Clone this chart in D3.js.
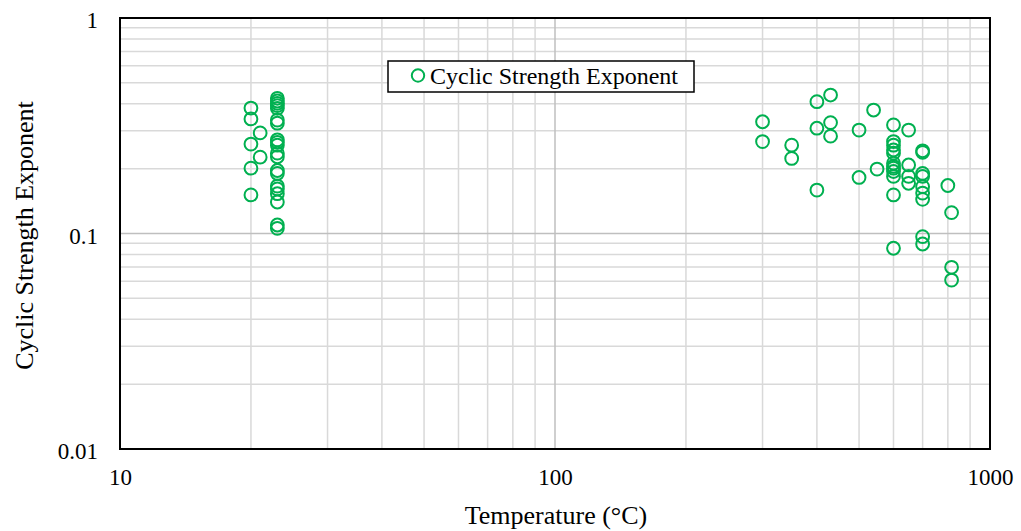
<!DOCTYPE html>
<html>
<head>
<meta charset="utf-8">
<script src="https://cdn.jsdelivr.net/npm/d3@7"></script>
<style>
  html, body { margin: 0; padding: 0; background: #fff; }
  svg { display: block; font-family: "Liberation Serif", "Times New Roman", serif; }
</style>
</head>
<body>
<svg id="chart" width="1021" height="531"></svg>
<script>
// Test temperatures (°C) and the cyclic strength exponent measured at each
const temperatureC = [
  20, 20, 20, 20, 20,
  21, 21,
  23, 23, 23, 23, 23, 23, 23, 23, 23, 23, 23, 23, 23, 23, 23, 23, 23, 23, 23, 23,
  300, 300,
  350, 350,
  400, 400, 400,
  430, 430, 430,
  500, 500,
  540, 550,
  600, 600, 600, 600, 600, 600, 600, 600, 600, 600, 600, 600,
  650, 650, 650, 650,
  700, 700, 700, 700, 700, 700, 700, 700, 700,
  800,
  816, 816, 816
];
const strengthExponent = [
  0.382, 0.340, 0.260, 0.201, 0.151,
  0.293, 0.226,
  0.424, 0.412, 0.402, 0.392, 0.381, 0.336, 0.325, 0.272, 0.265, 0.257, 0.236, 0.227, 0.196, 0.190, 0.166, 0.161, 0.153, 0.140, 0.1095, 0.1057,
  0.330, 0.267,
  0.257, 0.223,
  0.409, 0.308, 0.159,
  0.439, 0.327, 0.283,
  0.302, 0.182,
  0.374, 0.199,
  0.319, 0.267, 0.257, 0.244, 0.236, 0.212, 0.205, 0.201, 0.194, 0.184, 0.151, 0.0854,
  0.302, 0.208, 0.184, 0.171,
  0.242, 0.238, 0.190, 0.184, 0.165, 0.154, 0.144, 0.0967, 0.0894,
  0.167,
  0.125, 0.0697, 0.0608
];

const xTickValues = [10, 100, 1000];
const xTickLabels = ["10", "100", "1000"];
const yTickValues = [0.01, 0.1, 1];
const yTickLabels = ["0.01", "0.1", "1"];
const seriesName = "Cyclic Strength Exponent";
const xTitle = "Temperature (°C)";
const yTitle = "Cyclic Strength Exponent";

const margin = { left: 120, top: 18, right: 31, bottom: 82 };
const W = 1021, H = 531;
const pw = W - margin.left - margin.right;
const ph = H - margin.top - margin.bottom;
const green = "#00b050";

const svg = d3.select("#chart");
const g = svg.append("g").attr("transform", `translate(${margin.left},${margin.top})`);

const x = d3.scaleLog().domain([10, 1000]).range([0, pw]);
const y = d3.scaleLog().domain([0.01, 1]).range([ph, 0]);

// minor grid: 2..9 within each decade
const minorX = [], minorY = [];
for (const base of [10, 100]) for (let k = 2; k <= 9; k++) minorX.push(base * k);
for (const base of [0.01, 0.1]) for (let k = 2; k <= 9; k++) minorY.push(base * k);

g.append("g").selectAll("line").data(minorX).join("line")
  .attr("x1", d => x(d)).attr("x2", d => x(d))
  .attr("y1", 0).attr("y2", ph)
  .attr("stroke", "#d9d9d9").attr("stroke-width", 1.5);
g.append("g").selectAll("line").data(minorY).join("line")
  .attr("y1", d => y(d)).attr("y2", d => y(d))
  .attr("x1", 0).attr("x2", pw)
  .attr("stroke", "#d9d9d9").attr("stroke-width", 1.5);

// major grid
g.append("g").selectAll("line").data(xTickValues.slice(1, -1)).join("line")
  .attr("x1", d => x(d)).attr("x2", d => x(d))
  .attr("y1", 0).attr("y2", ph)
  .attr("stroke", "#bfbfbf").attr("stroke-width", 1.5);
g.append("g").selectAll("line").data(yTickValues.slice(1, -1)).join("line")
  .attr("y1", d => y(d)).attr("y2", d => y(d))
  .attr("x1", 0).attr("x2", pw)
  .attr("stroke", "#bfbfbf").attr("stroke-width", 1.5);

// plot frame
g.append("rect").attr("x", 0).attr("y", 0).attr("width", pw).attr("height", ph)
  .attr("fill", "none").attr("stroke", "#000").attr("stroke-width", 2);

// axes (labels only; the frame draws the lines)
const xAxis = d3.axisBottom(x).tickValues(xTickValues)
  .tickFormat((d, i) => xTickLabels[i]).tickSize(0).tickPadding(20);
const yAxis = d3.axisLeft(y).tickValues(yTickValues)
  .tickFormat((d, i) => yTickLabels[i]).tickSize(0).tickPadding(22);

const gx = g.append("g").attr("transform", `translate(0,${ph})`).call(xAxis);
const gy = g.append("g").call(yAxis);
[gx, gy].forEach(a => {
  a.select(".domain").remove();
  a.selectAll("text").attr("font-family", "Liberation Serif, Times New Roman, serif")
    .attr("font-size", 23).attr("fill", "#000");
});
gy.selectAll("text").attr("dy", "0.42em");

// data points
g.append("g").selectAll("circle").data(temperatureC).join("circle")
  .attr("cx", d => x(d))
  .attr("cy", (d, i) => y(strengthExponent[i]))
  .attr("r", 6.4)
  .attr("fill", "none")
  .attr("stroke", green)
  .attr("stroke-width", 2);

// axis titles
svg.append("text")
  .attr("x", margin.left + pw / 2 + 1).attr("y", 524)
  .attr("text-anchor", "middle").attr("font-size", 26).attr("fill", "#000")
  .text(xTitle);
svg.append("text")
  .attr("transform", `translate(33,${margin.top + ph / 2 + 2}) rotate(-90)`)
  .attr("text-anchor", "middle").attr("font-size", 26).attr("fill", "#000")
  .text(yTitle);

// legend
const lg = svg.append("g").attr("transform", "translate(388,61)");
lg.append("rect").attr("width", 306).attr("height", 31)
  .attr("fill", "#fff").attr("stroke", "#000").attr("stroke-width", 1.5);
lg.append("circle").attr("cx", 30).attr("cy", 14.5).attr("r", 6.2)
  .attr("fill", "none").attr("stroke", green).attr("stroke-width", 2);
lg.append("text").attr("x", 42).attr("y", 23)
  .attr("font-size", 24).attr("fill", "#000").text(seriesName);
</script>
</body>
</html>
